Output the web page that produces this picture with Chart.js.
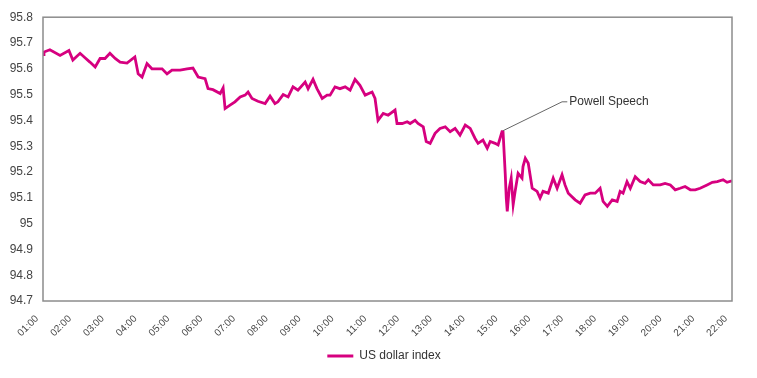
<!DOCTYPE html>
<html>
<head>
<meta charset="utf-8">
<script src="https://cdn.jsdelivr.net/npm/chart.js@4/dist/chart.umd.min.js"></script>
<style>
  html, body { margin: 0; padding: 0; background: #fff; }
  #wrap { width: 757px; height: 378px; }
</style>
</head>
<body>
<div id="wrap"><canvas id="dxyChart"></canvas></div>
<script>
// time of day in decimal hours
const hours = [1.0, 1.03, 1.21, 1.52, 1.79, 1.91, 2.13, 2.28, 2.43, 2.59, 2.74, 2.89, 3.04, 3.20, 3.35, 3.56, 3.80, 3.90, 4.02, 4.17,
    4.32, 4.48, 4.63, 4.78, 4.93, 5.18, 5.39, 5.57, 5.73, 5.94, 6.03, 6.18, 6.40, 6.49, 6.55, 6.70, 6.85, 7.01, 7.16, 7.25,
    7.37, 7.55, 7.77, 7.92, 8.07, 8.16, 8.32, 8.47, 8.62, 8.77, 8.99, 9.08, 9.23, 9.35, 9.51, 9.66, 9.75, 9.90, 10.05, 10.21,
    10.36, 10.51, 10.66, 10.82, 11.03, 11.12, 11.21, 11.37, 11.52, 11.73, 11.79, 11.95, 12.10, 12.19, 12.34, 12.43, 12.59, 12.68, 12.80, 12.95,
    13.10, 13.26, 13.41, 13.56, 13.71, 13.87, 14.02, 14.17, 14.26, 14.41, 14.54, 14.63, 14.78, 14.87, 14.99, 15.02, 15.09, 15.12, 15.15, 15.21,
    15.27, 15.33, 15.39, 15.48, 15.60, 15.63, 15.70, 15.79, 15.91, 16.06, 16.15, 16.24, 16.40, 16.55, 16.67, 16.82, 16.91, 17.01, 17.22, 17.37,
    17.52, 17.68, 17.83, 17.98, 18.07, 18.20, 18.35, 18.50, 18.59, 18.68, 18.80, 18.90, 19.05, 19.20, 19.35, 19.45, 19.60, 19.81, 19.96, 20.12,
    20.27, 20.42, 20.57, 20.73, 20.88, 21.03, 21.24, 21.40, 21.55, 21.73, 21.85, 22.0];

// US dollar index values
const dxy = [95.655, 95.665, 95.674, 95.652, 95.671, 95.634, 95.66, 95.643, 95.626, 95.607, 95.64, 95.64, 95.66, 95.64, 95.626, 95.622, 95.646, 95.581, 95.568, 95.62,
    95.60, 95.60, 95.60, 95.58, 95.595, 95.595, 95.60, 95.603, 95.568, 95.562, 95.523, 95.519, 95.504, 95.526, 95.446, 95.459, 95.472, 95.491, 95.498, 95.51,
    95.485, 95.474, 95.465, 95.494, 95.465, 95.472, 95.50, 95.491, 95.53, 95.517, 95.549, 95.523, 95.559, 95.523, 95.485, 95.498, 95.498, 95.53, 95.523, 95.53,
    95.517, 95.559, 95.536, 95.498, 95.51, 95.485, 95.40, 95.427, 95.42, 95.44, 95.388, 95.388, 95.395, 95.388, 95.40, 95.388, 95.375, 95.318, 95.311, 95.35,
    95.369, 95.375, 95.356, 95.369, 95.343, 95.382, 95.369, 95.33, 95.311, 95.324, 95.292, 95.318, 95.311, 95.305, 95.356, 95.36, 95.189, 95.099, 95.047, 95.137,
    95.176, 95.073, 95.125, 95.195, 95.176, 95.221, 95.253, 95.234, 95.137, 95.125, 95.099, 95.125, 95.118, 95.176, 95.137, 95.189, 95.15, 95.118, 95.092, 95.079,
    95.111, 95.118, 95.118, 95.137, 95.086, 95.067, 95.092, 95.086, 95.125, 95.118, 95.163, 95.137, 95.182, 95.163, 95.156, 95.17, 95.15, 95.15, 95.156, 95.15,
    95.131, 95.137, 95.144, 95.131, 95.131, 95.137, 95.15, 95.16, 95.163, 95.17, 95.16, 95.166];

// y axis tick labels
const yTicks = [94.7, 94.8, 94.9, 95, 95.1, 95.2, 95.3, 95.4, 95.5, 95.6, 95.7, 95.8];

// "Powell Speech" note: anchor point, elbow and label position (hours, value)
const noteText = 'Powell Speech';
const noteAnchor = [15.02, 95.36];
const noteElbow = [16.82, 95.472];
const noteEnd = [16.98, 95.472];

const magenta = '#d6007f';
const textColor = '#444';
const fontFamily = '"Liberation Sans", Arial, sans-serif';
const fontSize = 12;

const points = hours.map((h, i) => ({ x: h, y: dxy[i] }));

// box around the plot area + the annotation line
const frameAndNote = {
    id: 'frameAndNote',
    afterLayout(chart) {
        // legend sits a little right of centre in the original
        chart.legend.left += 18;
        chart.legend.right += 18;
    },
    afterDatasetsDraw(chart) {
        const ctx = chart.ctx;
        const a = chart.chartArea;
        const xs = chart.scales.x;
        const ys = chart.scales.y;
        ctx.save();
        ctx.strokeStyle = '#8c8c8c';
        ctx.lineWidth = 1.5;
        ctx.strokeRect(a.left, a.top, a.right - a.left, a.bottom - a.top);

        ctx.strokeStyle = '#666';
        ctx.lineWidth = 1;
        ctx.beginPath();
        ctx.moveTo(xs.getPixelForValue(noteAnchor[0]), ys.getPixelForValue(noteAnchor[1]));
        ctx.lineTo(xs.getPixelForValue(noteElbow[0]), ys.getPixelForValue(noteElbow[1]));
        ctx.lineTo(xs.getPixelForValue(noteEnd[0]), ys.getPixelForValue(noteEnd[1]));
        ctx.stroke();

        ctx.fillStyle = '#333';
        ctx.font = fontSize + 'px ' + fontFamily;
        ctx.textAlign = 'left';
        ctx.textBaseline = 'middle';
        ctx.fillText(noteText, xs.getPixelForValue(noteEnd[0]) + 2, ys.getPixelForValue(noteEnd[1]));
        ctx.restore();
    }
};

const ctx = document.getElementById('dxyChart').getContext('2d');
const dxyChart = new Chart(ctx, {
    type: 'line',
    data: {
        datasets: [{
            label: 'US dollar index',
            data: points,
            borderColor: magenta,
            backgroundColor: magenta,
            borderWidth: 2.8,
            pointRadius: 0,
            tension: 0
        }]
    },
    options: {
        responsive: true,
        maintainAspectRatio: false,
        animation: false,
        layout: { padding: { top: 3, right: 25, left: 0, bottom: 6 } },
        plugins: {
            legend: {
                position: 'bottom',
                labels: {
                    boxWidth: 26,
                    boxHeight: 3,
                    color: '#333',
                    padding: 4,
                    font: { family: fontFamily, size: fontSize },
                    generateLabels: function(chart) {
                        const items = Chart.defaults.plugins.legend.labels.generateLabels(chart);
                        items.forEach(item => { item.lineWidth = 0; });
                        return items;
                    }
                }
            },
            tooltip: { enabled: false }
        },
        scales: {
            x: {
                type: 'linear',
                min: 1,
                max: 22,
                grid: { display: false, drawTicks: false },
                border: { display: false },
                afterFit: function(axis) {
                    axis.height = 45;
                },
                ticks: {
                    stepSize: 1,
                    autoSkip: false,
                    minRotation: 45,
                    maxRotation: 45,
                    padding: 6,
                    color: textColor,
                    font: { family: fontFamily, size: 10 },
                    callback: function(value) {
                        // trailing spaces nudge the rotated label down-left of its tick, as in the original
                        return (value < 10 ? '0' : '') + value + ':00   ';
                    }
                }
            },
            y: {
                min: yTicks[0],
                max: yTicks[yTicks.length - 1],
                afterBuildTicks: function(axis) {
                    axis.ticks = yTicks.map(v => ({ value: v }));
                },
                afterFit: function(axis) {
                    axis.width = 43;
                },
                grid: { display: false, drawTicks: false },
                border: { display: false },
                ticks: {
                    padding: 10,
                    color: textColor,
                    font: { family: fontFamily, size: fontSize },
                    callback: function(value) {
                        return Number(value.toFixed(1)).toString();
                    }
                }
            }
        }
    },
    plugins: [frameAndNote]
});
</script>
</body>
</html>
